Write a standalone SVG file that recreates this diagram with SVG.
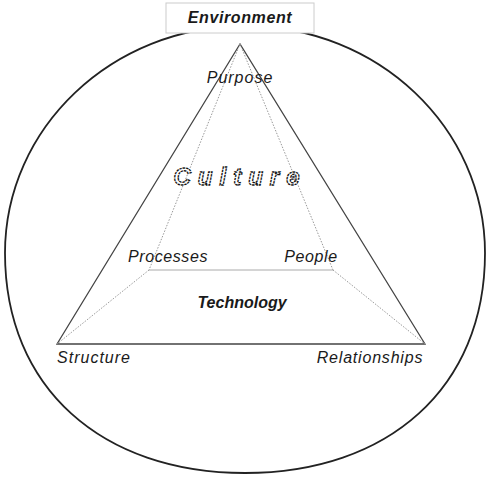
<svg xmlns="http://www.w3.org/2000/svg" width="489" height="480" viewBox="0 0 489 480">
<style>
.lbl{font-family:"Liberation Sans",Arial,sans-serif;font-style:italic;font-size:16px;fill:#1a1a1a;text-anchor:middle}
.b{font-weight:bold}
.dot{stroke:#999;stroke-width:1;stroke-dasharray:1.5,1.5;fill:none}
</style>
<rect width="489" height="480" fill="#fff"/>
<g id="environment-boundary">
<path d="M5,253 C5,128 112,26 245,26 C378,26 485,128 485,253 C485,388 388,473 245,473 C102,473 5,388 5,253 Z" fill="none" stroke="#222" stroke-width="1.8"/>
</g>
<g id="connectors">
<polygon points="240,44 57,344 425,344" fill="none" stroke="#444" stroke-width="1.3"/>
<line x1="240" y1="44" x2="149" y2="270" class="dot"/>
<line x1="240" y1="44" x2="333" y2="270" class="dot"/>
<line x1="149" y1="270" x2="333" y2="270" stroke="#aaa" stroke-width="1"/>
<line x1="149" y1="270" x2="57" y2="344" class="dot"/>
<line x1="333" y1="270" x2="425" y2="344" class="dot"/>
</g>
<g id="environment">
<rect x="166" y="3" width="148" height="30" fill="#fff" stroke="#ccc" stroke-width="1"/>
<text x="240" y="23" class="lbl b" letter-spacing="0.6">Environment</text>
</g>
<g id="purpose"><text x="240" y="83" class="lbl" letter-spacing="1">Purpose</text></g>
<g id="culture"><text x="240" y="185" font-family="Liberation Sans,Arial,sans-serif" font-style="italic" font-weight="bold" font-size="24" text-anchor="middle" letter-spacing="7" fill="#fff" stroke="#111" stroke-width="1.3" stroke-dasharray="2.5,0.8">Culture</text></g>
<g id="processes"><text x="168" y="262" class="lbl" letter-spacing="0.6">Processes</text></g>
<g id="people"><text x="311" y="262" class="lbl" letter-spacing="0.6">People</text></g>
<g id="technology"><text x="242" y="308" class="lbl b">Technology</text></g>
<g id="structure"><text x="94" y="363" class="lbl" letter-spacing="1">Structure</text></g>
<g id="relationships"><text x="370" y="363" class="lbl" letter-spacing="0.8">Relationships</text></g>
</svg>
